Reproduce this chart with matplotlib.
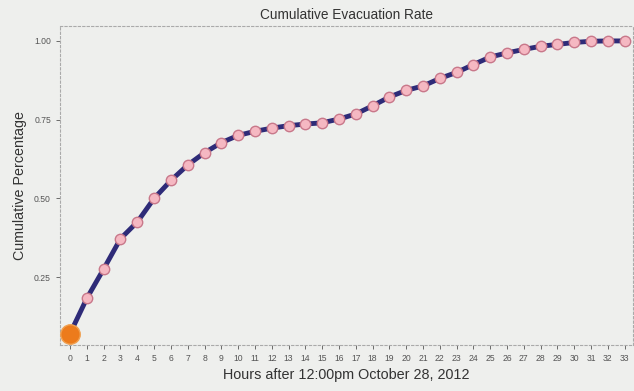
import matplotlib.pyplot as plt

hours = list(range(34))
cum_pct = [0.071, 0.183, 0.276, 0.372, 0.425, 0.500, 0.557, 0.606, 0.645, 0.677,
           0.700, 0.713, 0.723, 0.731, 0.736, 0.740, 0.752, 0.768, 0.794, 0.822,
           0.843, 0.857, 0.881, 0.900, 0.925, 0.949, 0.962, 0.973, 0.983, 0.989,
           0.995, 0.999, 1.000, 1.000]
y_ticks = [0.25, 0.50, 0.75, 1.00]

bg = '#eeefed'
plt.rcParams['font.family'] = ['Liberation Sans', 'DejaVu Sans']

fig = plt.figure(figsize=(6.34, 3.91), dpi=100, facecolor=bg)
ax = fig.add_axes([0.0946, 0.118, 0.904, 0.816], facecolor=bg)

ax.plot(hours, cum_pct, color='#2e2b78', lw=3.5, zorder=2)
ax.plot(hours[1:], cum_pct[1:], 'o', ms=7.5, mfc='#f5b8c2', mec='#c8788a', mew=1, zorder=3)
ax.plot(hours[0], cum_pct[0], 'o', ms=14, mfc='#ec7b1c', mec='#f0a050', mew=1, zorder=4)

ax.set_xlim(-0.6, 33.5)
ax.set_ylim(0.035, 1.048)
ax.set_xticks(hours)
ax.set_yticks(y_ticks)
ax.set_yticklabels(['0.25', '0.50', '0.75', '1.00'])
ax.tick_params(labelsize=6.2, colors='#555555', length=3, width=0.6)

for s in ['left', 'bottom', 'top', 'right']:
    ax.spines[s].set_linestyle((0, (2, 2)))
    ax.spines[s].set_color('#aaaaaa')
    ax.spines[s].set_linewidth(0.8)

ax.set_title('Cumulative Evacuation Rate', fontsize=9.8, color='#333333', pad=5)
ax.set_xlabel('Hours after 12:00pm October 28, 2012', fontsize=10.4, color='#333333', labelpad=4)
ax.set_ylabel('Cumulative Percentage', fontsize=10.3, color='#333333', labelpad=5)

fig.savefig('out.png', dpi=100, facecolor=bg)
